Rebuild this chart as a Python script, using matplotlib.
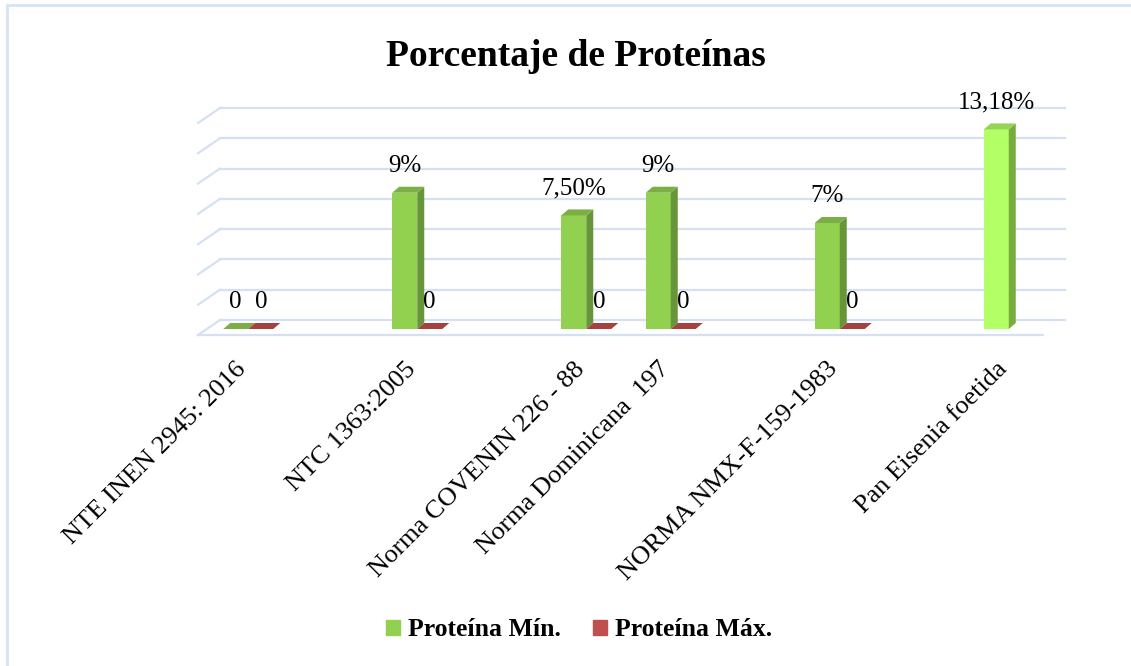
import matplotlib
matplotlib.use('Agg')
import matplotlib.pyplot as plt
from matplotlib.patches import Polygon, Rectangle, Patch

plt.rcParams['font.family'] = ['Liberation Serif', 'DejaVu Serif']

# ---------------- data ----------------
categories = ["NTE INEN 2945: 2016", "", "NTC 1363:2005", "", "Norma COVENIN 226 - 88",
              "Norma Dominicana  197", "", "NORMA NMX-F-159-1983", "", "Pan Eisenia foetida"]
prot_min = [0, None, 9, None, 7.5, 9, None, 7, None, 13.18]
prot_max = [0, None, 0, None, 0, 0, None, 0, None, None]
min_labels = ["0", "", "9%", "", "7,50%", "9%", "", "7%", "", "13,18%"]
max_labels = ["0", "", "0", "", "0", "0", "", "0", "", ""]
series_names = ["Proteína Mín.", "Proteína Máx."]
y_ticks = [0, 2, 4, 6, 8, 10, 12, 14]
title = "Porcentaje de Proteínas"

# ---------------- style ----------------
W, H = 1131, 666
GRID = '#D5E1F2'
GREEN = dict(front='#92D050', side='#67963A', top='#7BAF45')
GREEN_HL = dict(front='#B3FF66', side='#78AC3D', top='#96D458')
RED = dict(front='#C0504D', side='#8E3532', top='#A5413E')

fig = plt.figure(figsize=(W / 100, H / 100), dpi=100)
ax = fig.add_axes([198 / W, (H - 335) / H, 845 / W, 212 / H])
ax.set_xlim(-0.5, len(categories) - 0.5)
ax.set_ylim(0, 14)
ax.axis('off')

px_x = (len(categories)) / 845.0
px_y = 14 / 212.0

# back wall / floor offsets
BX, BY = 22 * px_x, 15 * px_y
xmin, xmax = -0.5, len(categories) - 0.5
for v in y_ticks:
    ax.plot([xmin + BX, xmax + BX], [v + BY, v + BY], color=GRID, lw=1.6, clip_on=False, zorder=1)
    ax.plot([xmin, xmin + BX], [v, v + BY], color=GRID, lw=1.6, clip_on=False, zorder=1)
ax.plot([xmin, xmax], [0, 0], color=GRID, lw=1.6, clip_on=False, zorder=1)

# bars
w = 25 * px_x
FX, FY = 8 * px_x, 6 * px_y
DX, DY = 7 * px_x, 6 * px_y

def draw_bar(x0, v, cols):
    y0 = FY
    y1 = FY + v
    x1 = x0 + w
    if v > 0:
        ax.bar(x0, v, width=w, bottom=y0, align='edge', color=cols['front'], lw=0, zorder=3)
        ax.add_patch(Polygon([(x1, y0), (x1 + DX, y0 + DY), (x1 + DX, y1 + DY), (x1, y1)],
                             closed=True, fc=cols['side'], ec='none', zorder=3, clip_on=False))
    ax.add_patch(Polygon([(x0, y1), (x1, y1), (x1 + DX, y1 + DY), (x0 + DX, y1 + DY)],
                         closed=True, fc=cols['top'], ec='none', zorder=3, clip_on=False))

for i, (vmin, vmax) in enumerate(zip(prot_min, prot_max)):
    if vmin is not None:
        cols = GREEN_HL if categories[i].startswith("Pan") else GREEN
        x0 = i - w + FX
        draw_bar(x0, vmin, cols)
        ax.text(x0 + w / 2, FY + vmin + 27 * px_y, min_labels[i], ha='center', va='center',
                fontsize=18, zorder=5, clip_on=False)
    if vmax is not None:
        x0 = i + FX
        draw_bar(x0, vmax, RED)
        ax.text(x0 + w / 2, FY + vmax + 27 * px_y, max_labels[i], ha='center', va='center',
                fontsize=18, zorder=5, clip_on=False)

# category labels
for i, lab in enumerate(categories):
    if lab:
        ax.text(i - 5 * px_x, -23 * px_y, lab, rotation=45, ha='right', va='top',
                rotation_mode='anchor', fontsize=19, clip_on=False)

# title
fig.text(576 / W, 1 - 57 / H, title, ha='center', va='center', fontsize=27, fontweight='bold')

# legend
handles = [Patch(color=GREEN['front']), Patch(color=RED['front'])]
fig.legend(handles, series_names, loc='center', bbox_to_anchor=(579 / W, 1 - 630 / H), ncol=2,
           frameon=False, prop=dict(weight='bold', size=18.5), handlelength=0.55, handleheight=0.55,
           handletextpad=0.3, columnspacing=1.25)

# chart border
fig.add_artist(Rectangle((7 / W, -0.1), 1.2, 1 - 5 / H + 0.1, transform=fig.transFigure,
                         fill=False, ec='#D6E3F3', lw=2))

fig.savefig('out.png', dpi=100)
